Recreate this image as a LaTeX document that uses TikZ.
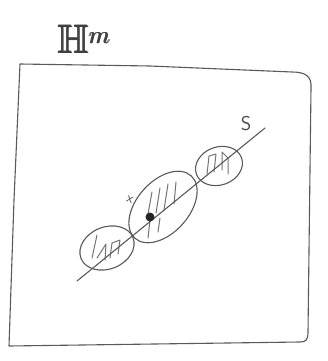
\documentclass[tikz,border=0pt]{standalone}
\usepackage{amssymb}
\usepackage{amsbsy}
\usetikzlibrary{shapes.geometric}
\begin{document}
\begin{tikzpicture}[x=1pt,y=-1pt,
  pencil/.style={draw=black!65, line width=1.1pt, line cap=round, line join=round},
  blob/.style={pencil, ellipse, inner sep=0pt},
  hatch/.style={draw=black!55, line width=1pt, line cap=round},
  lbl/.style={text=black!70, inner sep=0pt}]
\useasboundingbox (0,0) rectangle (328,361);
% frame
\draw[pencil] (20,64) -- (150,66) -- (292,72) .. controls (305,72) and (312,76) .. (311,88)
  -- (308,332) .. controls (308,340) and (306,342) .. (300,342) -- (9,346) -- (14,200) -- cycle;
% label H^m
\node[lbl, text=black!75, font=\fontsize{40}{42}\selectfont, anchor=base west] (H) at (58,53) {$\pmb{\mathbb{H}}^{\pmb{m}}$};
% ellipses
\node[blob, minimum width=56pt, minimum height=42pt, rotate=22] (e1) at (107,248) {};
\node[blob, minimum width=84pt, minimum height=52pt, rotate=48] (e2) at (163,207) {};
\node[blob, minimum width=48pt, minimum height=38pt, rotate=20] (e3) at (219,166) {};
% hatching
\draw[hatch] (97,235) -- (92,258) (97,258) -- (106,244) (106,244) -- (105,260) (112,243) -- (110,258) (112,243) -- (120,240) (120,240) -- (118,254);
\draw[hatch] (152,192) -- (148,214) (160,188) -- (156,213) (168,184) -- (164,210) (176,182) -- (174,204) (150,220) -- (148,238) (160,218) -- (158,232);
\draw[hatch] (209,156) -- (207,174) (209,156) -- (216,154) (216,154) -- (214,172) (222,152) -- (222,170) (222,152) -- (228,158) (228,158) -- (228,174);
% curve S
\coordinate (a) at (77,281);
\coordinate (b) at (265,128);
\draw[pencil] (a) -- (b);
\node[lbl, font=\sffamily\fontsize{20}{20}\selectfont] (S) at (246,124) {S};
% point x
\fill[black!85] (150,217) circle (4.5pt);
\node[lbl, font=\sffamily\fontsize{14}{14}\selectfont, rotate=-20] (x) at (130,200) {x};
\end{tikzpicture}
\end{document}
